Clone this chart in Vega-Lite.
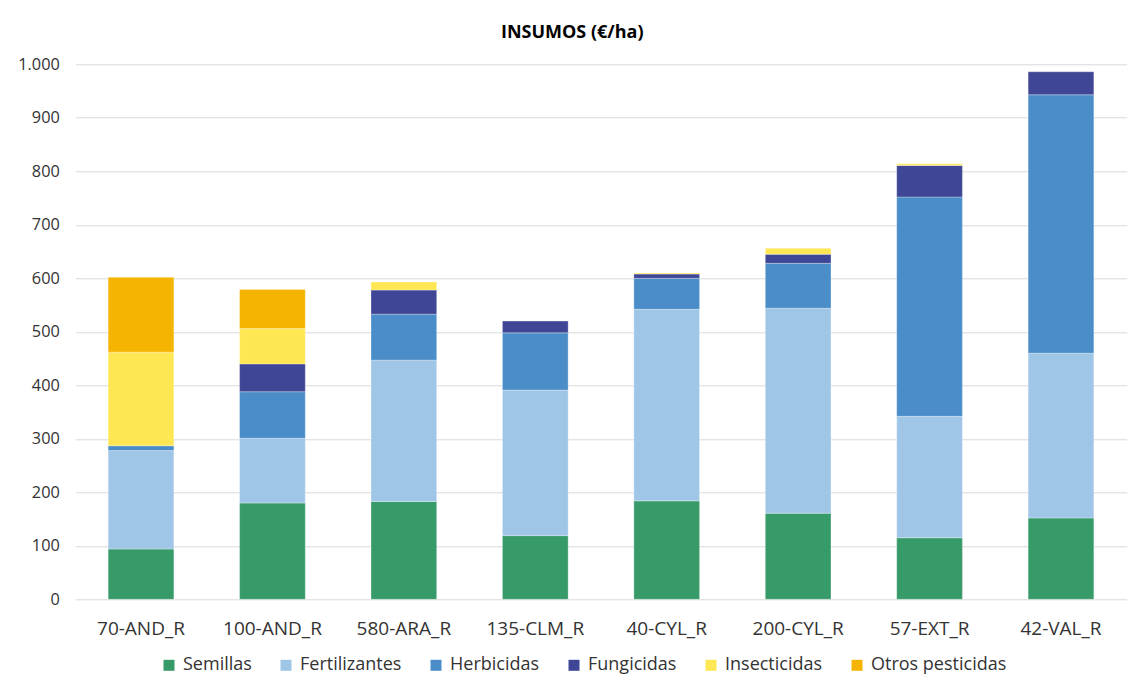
{
  "$schema": "https://vega.github.io/schema/vega-lite/v6.json",
  "width": 1051.4,
  "height": 535,
  "autosize": {"type": "none"},
  "padding": {"left": 75.3, "top": 64.3, "right": 4.3, "bottom": 83.7},
  "background": "white",
  "title": {
    "text": "INSUMOS (€/ha)",
    "anchor": "middle",
    "frame": "bounds",
    "font": "Open Sans",
    "fontSize": 18,
    "fontWeight": "bold",
    "color": "#000000",
    "offset": 14
  },
  "data": {
    "values": [
      {"region": "70-AND_R", "tipo": "Semillas", "orden": 1, "valor": 94},
      {"region": "70-AND_R", "tipo": "Fertilizantes", "orden": 2, "valor": 184},
      {"region": "70-AND_R", "tipo": "Herbicidas", "orden": 3, "valor": 9},
      {"region": "70-AND_R", "tipo": "Insecticidas", "orden": 5, "valor": 175},
      {"region": "70-AND_R", "tipo": "Otros pesticidas", "orden": 6, "valor": 140},
      {"region": "100-AND_R", "tipo": "Semillas", "orden": 1, "valor": 180},
      {"region": "100-AND_R", "tipo": "Fertilizantes", "orden": 2, "valor": 121},
      {"region": "100-AND_R", "tipo": "Herbicidas", "orden": 3, "valor": 87},
      {"region": "100-AND_R", "tipo": "Fungicidas", "orden": 4, "valor": 52},
      {"region": "100-AND_R", "tipo": "Insecticidas", "orden": 5, "valor": 66},
      {"region": "100-AND_R", "tipo": "Otros pesticidas", "orden": 6, "valor": 73},
      {"region": "580-ARA_R", "tipo": "Semillas", "orden": 1, "valor": 183},
      {"region": "580-ARA_R", "tipo": "Fertilizantes", "orden": 2, "valor": 264},
      {"region": "580-ARA_R", "tipo": "Herbicidas", "orden": 3, "valor": 86},
      {"region": "580-ARA_R", "tipo": "Fungicidas", "orden": 4, "valor": 45},
      {"region": "580-ARA_R", "tipo": "Insecticidas", "orden": 5, "valor": 15},
      {"region": "135-CLM_R", "tipo": "Semillas", "orden": 1, "valor": 119},
      {"region": "135-CLM_R", "tipo": "Fertilizantes", "orden": 2, "valor": 272},
      {"region": "135-CLM_R", "tipo": "Herbicidas", "orden": 3, "valor": 107},
      {"region": "135-CLM_R", "tipo": "Fungicidas", "orden": 4, "valor": 22},
      {"region": "40-CYL_R", "tipo": "Semillas", "orden": 1, "valor": 184},
      {"region": "40-CYL_R", "tipo": "Fertilizantes", "orden": 2, "valor": 358},
      {"region": "40-CYL_R", "tipo": "Herbicidas", "orden": 3, "valor": 58},
      {"region": "40-CYL_R", "tipo": "Fungicidas", "orden": 4, "valor": 8},
      {"region": "40-CYL_R", "tipo": "Insecticidas", "orden": 5, "valor": 2},
      {"region": "200-CYL_R", "tipo": "Semillas", "orden": 1, "valor": 161},
      {"region": "200-CYL_R", "tipo": "Fertilizantes", "orden": 2, "valor": 383},
      {"region": "200-CYL_R", "tipo": "Herbicidas", "orden": 3, "valor": 84},
      {"region": "200-CYL_R", "tipo": "Fungicidas", "orden": 4, "valor": 17},
      {"region": "200-CYL_R", "tipo": "Insecticidas", "orden": 5, "valor": 11},
      {"region": "57-EXT_R", "tipo": "Semillas", "orden": 1, "valor": 115},
      {"region": "57-EXT_R", "tipo": "Fertilizantes", "orden": 2, "valor": 227},
      {"region": "57-EXT_R", "tipo": "Herbicidas", "orden": 3, "valor": 410},
      {"region": "57-EXT_R", "tipo": "Fungicidas", "orden": 4, "valor": 59},
      {"region": "57-EXT_R", "tipo": "Insecticidas", "orden": 5, "valor": 3},
      {"region": "42-VAL_R", "tipo": "Semillas", "orden": 1, "valor": 152},
      {"region": "42-VAL_R", "tipo": "Fertilizantes", "orden": 2, "valor": 308},
      {"region": "42-VAL_R", "tipo": "Herbicidas", "orden": 3, "valor": 483},
      {"region": "42-VAL_R", "tipo": "Fungicidas", "orden": 4, "valor": 43}
    ]
  },
  "mark": {"type": "bar", "stroke": "white", "strokeWidth": 0.5, "strokeOpacity": 0.6},
  "encoding": {
    "x": {
      "field": "region",
      "type": "nominal",
      "sort": ["70-AND_R", "100-AND_R", "580-ARA_R", "135-CLM_R", "40-CYL_R", "200-CYL_R", "57-EXT_R", "42-VAL_R"],
      "scale": {"paddingInner": 0.5, "paddingOuter": 0.25},
      "axis": {
        "title": null,
        "labelAngle": 0,
        "ticks": false,
        "domain": false,
        "labelPadding": 20,
        "labelFont": "Open Sans",
        "labelFontSize": 19,
        "labelColor": "#333333"
      }
    },
    "y": {
      "field": "valor",
      "type": "quantitative",
      "stack": "zero",
      "scale": {"domain": [0, 1000], "nice": false},
      "axis": {
        "title": null,
        "values": [0, 100, 200, 300, 400, 500, 600, 700, 800, 900, 1000],
        "labelExpr": "replace(format(datum.value, ','), ',', '.')",
        "ticks": false,
        "domain": false,
        "labelPadding": 16,
        "labelFont": "Open Sans",
        "labelFontSize": 16.3,
        "labelColor": "#333333",
        "gridColor": "#D9D9D9",
        "gridWidth": 1
      }
    },
    "order": {"field": "orden", "type": "quantitative", "sort": "ascending"},
    "color": {
      "field": "tipo",
      "type": "nominal",
      "sort": ["Semillas", "Fertilizantes", "Herbicidas", "Fungicidas", "Insecticidas", "Otros pesticidas"],
      "scale": {
        "domain": ["Semillas", "Fertilizantes", "Herbicidas", "Fungicidas", "Insecticidas", "Otros pesticidas"],
        "range": ["#379A69", "#A0C6E7", "#4A8DC8", "#3E4695", "#FFE754", "#F5B400"]
      },
      "legend": {
        "title": null,
        "orient": "none",
        "legendX": 84.7,
        "legendY": 592,
        "direction": "horizontal",
        "columns": 6,
        "symbolType": "square",
        "symbolSize": 121,
        "symbolStrokeWidth": 0,
        "symbolOpacity": 1,
        "labelFont": "Open Sans",
        "labelFontSize": 18,
        "labelColor": "#333333",
        "labelOffset": 5,
        "columnPadding": 25
      }
    }
  },
  "config": {
    "view": {"stroke": null},
    "axis": {"grid": true},
    "axisX": {"grid": false}
  }
}
